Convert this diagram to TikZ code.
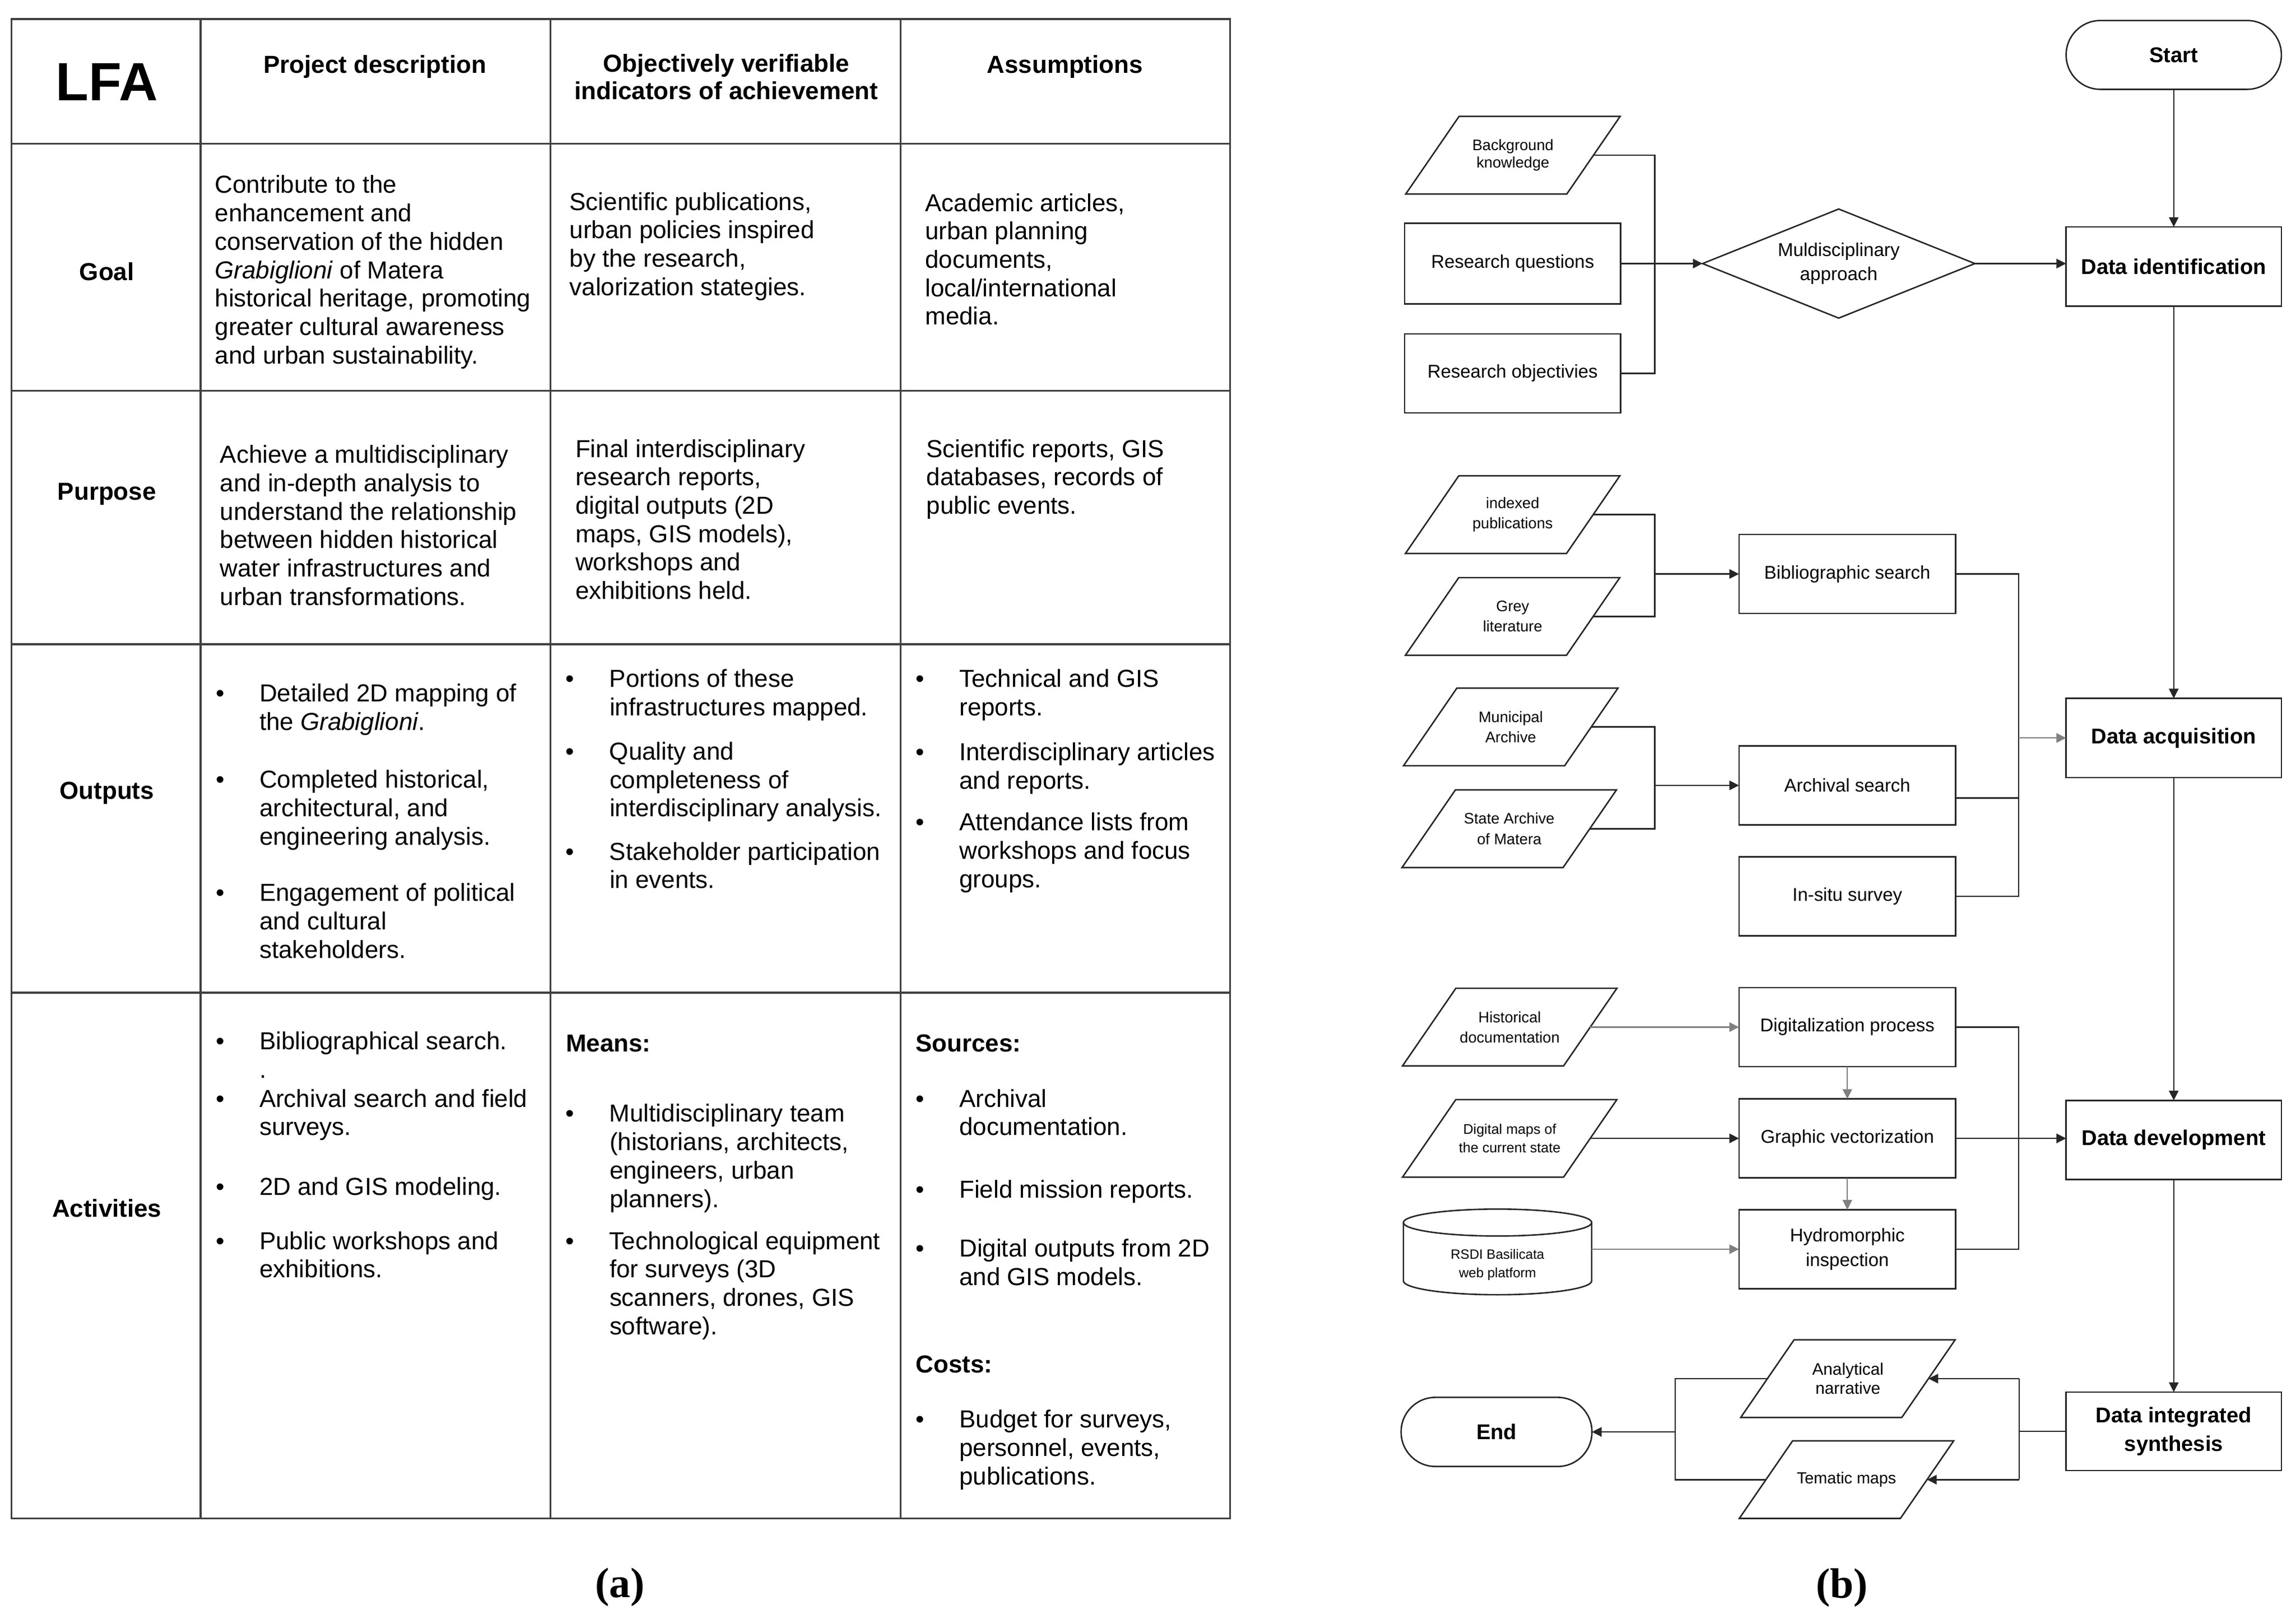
\documentclass[tikz,border=0pt]{standalone}
\usepackage{fontspec}
\setmainfont{Liberation Sans}
\newfontfamily\capfont{Liberation Serif}
\usetikzlibrary{arrows.meta,shapes.geometric,calc}
\newcommand{\lfabul}{\leavevmode\llap{\textbullet\hspace{12pt}}}
\begin{document}
\begin{tikzpicture}[x=0.5pt,y=-0.5pt,
  tline/.style={draw=black!75, line width=0.6pt},
  tx/.style={anchor=north west, inner sep=0pt, outer sep=0pt, yshift=-1.25pt, align=left, font=\fontsize{8.4}{9.7}\selectfont, execute at begin node=\strut},
  tbold/.style={tx, font=\fontsize{8.4}{9.7}\selectfont\bfseries},
  thd/.style={anchor=north, inner sep=0pt, outer sep=0pt, yshift=-0.8pt, align=center, font=\fontsize{8.4}{9.5}\selectfont\bfseries, execute at begin node=\strut},
  trow/.style={anchor=base, inner sep=0pt, yshift=-0.4pt, font=\fontsize{8.4}{9.7}\selectfont\bfseries},
  fbox/.style={rectangle, draw=black!85, line width=0.5pt, inner sep=1pt, outer sep=0pt, align=center, minimum width=74pt, minimum height=27pt, font=\fontsize{6.3}{8.5}\selectfont},
  fmain/.style={fbox, minimum width=73.5pt, font=\fontsize{7.3}{9.9}\selectfont\bfseries},
  fterm/.style={fmain, rounded corners=11.7pt, minimum height=23.5pt},
  fpara/.style={rectangle, inner sep=0pt, outer sep=0pt, align=center, minimum width=55pt, minimum height=26.5pt, font=\fontsize{5.2}{6.9}\selectfont},
  fdia/.style={diamond, aspect=2.5, draw=black!85, line width=0.5pt, inner sep=0pt, outer sep=0pt, align=center, minimum width=93pt, minimum height=37.25pt, font=\fontsize{6.35}{8.3}\selectfont},
  boxl/.style={draw=black!85, line width=0.5pt},
  conn/.style={draw=black!85, line width=0.5pt},
  lconn/.style={draw=black!50, line width=0.45pt},
  arr/.style={-{Triangle[length=3.3pt,width=3.2pt]}},
  capt/.style={anchor=base, inner sep=0pt, font=\capfont\fontsize{14.5}{17}\selectfont\bfseries}
]
\useasboundingbox (0,0) rectangle (1568,1105.4);
\fill[white] (0,0) rectangle (1568,1105.4);

% ---------------- (a) LFA table ----------------
\draw[tline] (8,13) rectangle (840,1037);
\foreach \cx in {137,376,615} \draw[tline] (\cx,13) -- (\cx,1037);
\foreach \ry in {98,267,440,678} \draw[tline] (8,\ry) -- (840,\ry);

\node[anchor=base, inner sep=0pt, font=\fontsize{18.4}{22}\selectfont\bfseries] (lfa) at (73,68.5) {LFA};
\node[thd] (hpd) at (256,35.2) {Project description};
\node[thd] (hov) at (496,35.2) {Objectively verifiable\\indicators of achievement};
\node[thd] (has) at (727.3,35.2) {Assumptions};

\node[trow] (rgoal) at (73,190.6) {Goal};
\node[trow] (rpurp) at (73,340.8) {Purpose};
\node[trow] (routp) at (73,545) {Outputs};
\node[trow] (ract) at (73,830.6) {Activities};

% Goal
\node[tx] (g2) at (146.8,117.3) {Contribute to the\\enhancement and\\conservation of the hidden\\\textit{Grabiglioni} of Matera\\historical heritage, promoting\\greater cultural awareness\\and urban sustainability.};
\node[tx] (g3) at (389,128.8) {Scientific publications,\\urban policies inspired\\by the research,\\valorization stategies.};
\node[tx] (g4) at (631.9,129.6) {Academic articles,\\urban planning\\documents,\\local/international\\media.};
% Purpose
\node[tx] (p2) at (150.3,301.6) {Achieve a multidisciplinary\\and in-depth analysis to\\understand the relationship\\between hidden historical\\water infrastructures and\\urban transformations.};
\node[tx] (p3) at (393,297.6) {Final interdisciplinary\\research reports,\\digital outputs (2D\\maps, GIS models),\\workshops and\\exhibitions held.};
\node[tx] (p4) at (632.7,297.6) {Scientific reports, GIS\\databases, records of\\public events.};
% Outputs
\node[tx] (o2a) at (177.2,464.5) {\lfabul Detailed 2D mapping of\\the \textit{Grabiglioni}.};
\node[tx] (o2b) at (177.2,523.6) {\lfabul Completed historical,\\architectural, and\\engineering analysis.};
\node[tx] (o2c) at (177.2,600.9) {\lfabul Engagement of political\\and cultural\\stakeholders.};
\node[tx] (o3a) at (416.3,454.6) {\lfabul Portions of these\\infrastructures mapped.};
\node[tx] (o3b) at (416.3,504.3) {\lfabul Quality and\\completeness of\\interdisciplinary analysis.};
\node[tx] (o3c) at (416.3,572.7) {\lfabul Stakeholder participation\\in events.};
\node[tx] (o4a) at (655.2,454.6) {\lfabul Technical and GIS\\reports.};
\node[tx] (o4b) at (655.2,504.8) {\lfabul Interdisciplinary articles\\and reports.};
\node[tx] (o4c) at (655.2,552.6) {\lfabul Attendance lists from\\workshops and focus\\groups.};
% Activities
\node[tx] (a2a) at (177.2,702.1) {\lfabul Bibliographical search.\\.};
\node[tx] (a2b) at (177.2,741.4) {\lfabul Archival search and field\\surveys.};
\node[tx] (a2c) at (177.2,800.2) {\lfabul 2D and GIS modeling.};
\node[tx] (a2d) at (177.2,838.6) {\lfabul Public workshops and\\exhibitions.};
\node[tbold] (means) at (386.5,702.1) {Means:};
\node[tx] (a3a) at (416.3,751.7) {\lfabul Multidisciplinary team\\(historians, architects,\\engineers, urban\\planners).};
\node[tx] (a3b) at (416.3,838.6) {\lfabul Technological equipment\\for surveys (3D\\scanners, drones, GIS\\software).};
\node[tbold] (sources) at (625.4,702.1) {Sources:};
\node[tx] (a4a) at (655.2,741.4) {\lfabul Archival\\documentation.};
\node[tx] (a4b) at (655.2,802.2) {\lfabul Field mission reports.};
\node[tx] (a4c) at (655.2,843.7) {\lfabul Digital outputs from 2D\\and GIS models.};
\node[tbold] (costs) at (625.4,921.4) {Costs:};
\node[tx] (a4d) at (655.2,960.6) {\lfabul Budget for surveys,\\personnel, events,\\publications.};

\node[capt] (capa) at (423.5,1091) {(a)};
\node[capt] (capb) at (1257.9,1091.5) {(b)};

% ---------------- (b) flowchart ----------------
\node[fterm] (startn) at (1484.5,37.5) {Start};
\node[fmain] (did) at (1484.5,182) {Data identification};
\node[fmain] (dacq) at (1484.5,504) {Data acquisition};
\node[fmain] (ddev) at (1484.5,778.6) {Data development};
\node[fmain, minimum height=26.8pt] (dis) at (1484.5,977.6) {\raisebox{-1pt}{\shortstack{}}Data integrated\\synthesis};
\node[fterm, minimum width=65.15pt, minimum height=23.6pt] (endn) at (1022,978) {End};

\node[fpara, font=\fontsize{5.2}{5.8}\selectfont] (bk) at (1033.2,106) {Background\\knowledge};
\node[fbox, minimum width=73.75pt, minimum height=27.5pt] (rq) at (1033,180) {Research questions};
\node[fbox, minimum width=73.75pt] (ro) at (1033,255) {Research objectivies};
\node[fdia] (dia) at (1255.7,180) {Muldisciplinary\\approach};

\node[fpara] (ip) at (1033,351.5) {indexed\\publications};
\node[fpara] (gl) at (1033,421) {Grey\\literature};
\node[fpara] (ma) at (1031.7,496.5) {Municipal\\Archive};
\node[fpara] (sa) at (1030.7,566) {State Archive\\of Matera};
\node[fbox] (bib) at (1261.6,392) {Bibliographic search};
\node[fbox] (arch) at (1261.6,536.4) {Archival search};
\node[fbox] (ins) at (1261.6,612.2) {In-situ survey};

\node[fpara] (hd) at (1031,701.5) {Historical\\documentation};
\node[fpara, font=\fontsize{4.8}{6.2}\selectfont] (dm) at (1031,777.5) {Digital maps of\\the current state};
\node[fpara, minimum width=64.3pt, minimum height=20.3pt, font=\fontsize{4.6}{6.35}\selectfont] (rsdi) at (1022.7,864) {RSDI Basilicata\\web platform};
\node[fbox] (dig) at (1261.6,701.5) {Digitalization process};
\node[fbox] (gv) at (1261.6,777.5) {Graphic vectorization};
\node[fbox] (hyd) at (1261.6,853.2) {Hydromorphic\\inspection};

\node[fpara, font=\fontsize{5.7}{6.5}\selectfont] (an) at (1262,941.6) {Analytical\\narrative};
\node[fpara, font=\fontsize{5.5}{6.5}\selectfont] (tm) at (1261,1010.6) {Tematic maps};

% parallelogram outlines
\foreach \n in {bk,ip,gl,ma,sa,hd,dm,an,tm}
  \draw[boxl] ([xshift=9.1pt]\n.north west) -- ([xshift=9.1pt]\n.north east) -- ([xshift=-9.1pt]\n.south east) -- ([xshift=-9.1pt]\n.south west) -- cycle;
% cylinder outline
\draw[boxl] ($(rsdi.north west)+(0,-8.7)$) -- ($(rsdi.south west)+(0,-9.5)$) arc[start angle=180,end angle=360,x radius=32.15pt,y radius=4.75pt] -- ($(rsdi.north east)+(0,-8.7)$);
\draw[boxl] ($(rsdi.north)+(0,-8.7)$) ellipse [x radius=32.15pt, y radius=4.6pt];

% main spine
\draw[conn,arr] (startn.south) -- (did.north);
\draw[conn,arr] (did.south) -- (dacq.north);
\draw[conn,arr] (dacq.south) -- (ddev.north);
\draw[conn,arr] (ddev.south) -- (dis.north);

% block 1
\coordinate (bus1) at (1130,180);
\draw[conn] (bk.east) -- (bk.east -| bus1) -- (ro.east -| bus1) -- (ro.east);
\draw[conn,arr] (rq.east) -- (dia.west);
\draw[conn,arr] (dia.east) -- (dia.east -| did.west);

% block 2
\coordinate (bus2) at (1130,392);
\draw[conn] (ip.east) -- (ip.east -| bus2) -- (gl.east -| bus2) -- (gl.east);
\draw[conn,arr] (bus2) -- (bib.west);
\coordinate (bus3) at (1130,536.4);
\draw[conn] (ma.east) -- (ma.east -| bus3) -- (sa.east -| bus3) -- (sa.east);
\draw[conn,arr] (bus3) -- (arch.west);
\coordinate (bus4) at (1378.6,504);
\draw[conn] (bib.east) -- (bib.east -| bus4) -- (ins.east -| bus4) -- (ins.east);
\draw[conn] ([yshift=-4.3pt]arch.east) -- ([yshift=-4.3pt]arch.east -| bus4);
\draw[lconn,arr] (bus4) -- (dacq.west);

% block 3
\draw[lconn,arr] (hd.east) -- (dig.west);
\draw[conn,arr] (dm.east) -- (gv.west);
\draw[lconn,arr] (rsdi.east |- hyd.west) -- (hyd.west);
\draw[lconn,arr] (dig.south) -- (gv.north);
\draw[lconn,arr] (gv.south) -- (hyd.north);
\coordinate (bus5) at (1378.6,777.5);
\draw[conn] (dig.east) -- (dig.east -| bus5) -- (hyd.east -| bus5) -- (hyd.east);
\draw[conn,arr] (gv.east) -- (gv.east -| ddev.west);

% block 4
\coordinate (bus6) at (1379,977.6);
\draw[conn] (dis.west) -- (bus6);
\draw[conn] (an.east -| bus6) -- (tm.east -| bus6);
\draw[conn,arr] (an.east -| bus6) -- (an.east);
\draw[conn,arr] (tm.east -| bus6) -- (tm.east);
\coordinate (bus7) at (1144,978);
\draw[conn] (an.west) -- (an.west -| bus7) -- (tm.west -| bus7) -- (tm.west);
\draw[conn,arr] (endn.east -| bus7) -- (endn.east);
\end{tikzpicture}
\end{document}
